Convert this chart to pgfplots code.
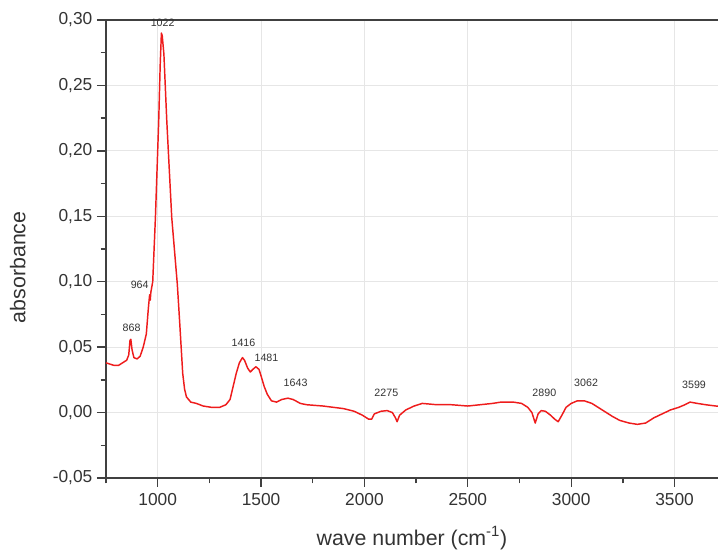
\documentclass[border=0pt]{standalone}
\usepackage{pgfplots}
\pgfplotsset{compat=1.18}
\usepackage{fontspec}
\setmainfont{Liberation Sans}
\definecolor{axgray}{HTML}{404040}
\definecolor{txtgray}{HTML}{333333}
\definecolor{gridgray}{HTML}{E6E6E6}
\definecolor{curvered}{HTML}{EE1C1C}
\begin{document}
\begin{tikzpicture}
\begin{axis}[
  at={(0pt,0pt)}, anchor=south west,
  scale only axis, width=459pt, height=343.5pt,
  xmin=750, xmax=3710, ymin=-0.05, ymax=0.30,
  axis x line*=box, axis y line*=left,
  axis line style={-, axgray, line width=1.1pt},
  xtick={1000,1500,2000,2500,3000,3500},
  minor xtick={750,1250,1750,2250,2750,3250},
  ytick={-0.05,0,0.05,0.10,0.15,0.20,0.25,0.30},
  minor ytick={-0.025,0.025,0.075,0.125,0.175,0.225,0.275},
  xtick pos=bottom, ytick pos=left,
  tick align=outside,
  major tick length=6.75pt, minor tick length=4pt,
  every tick/.style={axgray, line width=1pt},
  grid=major,
  major grid style={gridgray, line width=0.6pt},
  /pgf/number format/assume math mode=true,
  ticklabel style={font=\fontsize{13}{15}\selectfont, text=txtgray},
  xticklabel style={/pgf/number format/1000 sep={}, yshift=-1pt},
  yticklabel style={/pgf/number format/.cd, fixed, fixed zerofill, precision=2, use comma},
  xlabel={wave number (cm\textsuperscript{-1})},
  ylabel={absorbance},
  label style={font=\fontsize{16}{19}\selectfont, text=txtgray},
  xlabel style={at={(axis description cs:0.5,-0.131)}, anchor=center},
  ylabel style={at={(axis description cs:-0.144,0.46)}, anchor=center},
  clip=false,
]
\addplot[curvered, line width=1.1pt, line join=round] coordinates {
(750,0.038) (770,0.037) (790,0.036) (810,0.036) (830,0.038) (850,0.040)
(860,0.044) (866,0.055) (870,0.056) (876,0.048) (885,0.042) (900,0.041)
(915,0.043) (930,0.050) (945,0.060) (955,0.080) (961,0.090) (964,0.086)
(967,0.092) (976,0.100) (989,0.149) (1005,0.223) (1012,0.265) (1018,0.290)
(1022,0.288) (1030,0.274) (1044,0.223) (1068,0.149) (1095,0.098) (1106,0.070)
(1121,0.030) (1130,0.018) (1139,0.012) (1160,0.008) (1187,0.007) (1220,0.005)
(1260,0.004) (1300,0.004) (1330,0.006) (1350,0.010) (1365,0.020) (1380,0.030)
(1395,0.038) (1410,0.042) (1420,0.040) (1435,0.034) (1448,0.031) (1460,0.033)
(1475,0.035) (1490,0.033) (1500,0.028) (1515,0.020) (1530,0.014) (1550,0.009)
(1575,0.008) (1600,0.010) (1630,0.011) (1655,0.010) (1690,0.007) (1720,0.006)
(1800,0.005) (1850,0.004) (1900,0.003) (1950,0.001) (1990,-0.002) (2020,-0.005)
(2035,-0.005) (2048,-0.001) (2080,0.001) (2110,0.0015) (2135,0.000) (2150,-0.004)
(2158,-0.007) (2170,-0.002) (2200,0.002) (2240,0.005) (2280,0.007) (2350,0.006)
(2420,0.006) (2500,0.005) (2560,0.006) (2620,0.007) (2660,0.008) (2720,0.008)
(2760,0.007) (2790,0.004) (2810,0.000) (2826,-0.008) (2840,-0.001) (2855,0.0015)
(2875,0.001) (2900,-0.002) (2920,-0.005) (2937,-0.007) (2955,-0.002) (2975,0.004)
(3000,0.007) (3030,0.009) (3063,0.009) (3100,0.007) (3140,0.003) (3170,0.000)
(3200,-0.003) (3235,-0.006) (3280,-0.008) (3320,-0.009) (3360,-0.008) (3400,-0.004)
(3440,-0.001) (3480,0.002) (3520,0.004) (3550,0.006) (3575,0.008) (3610,0.007)
(3650,0.006) (3700,0.005) (3710,0.005)
};
\begin{scope}[every node/.style={font=\fontsize{8}{9}\selectfont, text=txtgray}]
\node at (axis cs:1024,0.298) {1022};
\node at (axis cs:913,0.098) {964};
\node at (axis cs:874,0.065) {868};
\node at (axis cs:1415,0.053) {1416};
\node at (axis cs:1526,0.042) {1481};
\node at (axis cs:1667,0.023) {1643};
\node at (axis cs:2106,0.015) {2275};
\node at (axis cs:2870,0.015) {2890};
\node at (axis cs:3072,0.023) {3062};
\node at (axis cs:3594,0.021) {3599};
\end{scope}
\end{axis}
\pgfresetboundingbox
\path[use as bounding box] (-79.5pt,-56.25pt) rectangle (459pt,358.5pt);
\end{tikzpicture}
\end{document}
